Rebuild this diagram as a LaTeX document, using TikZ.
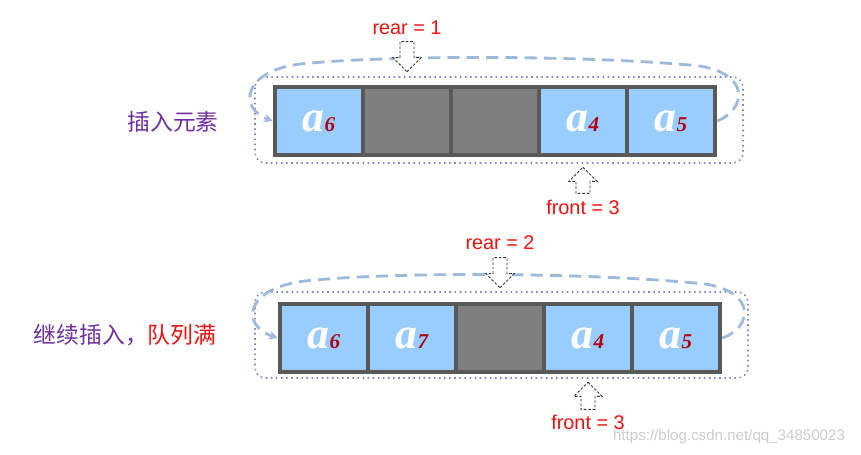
\documentclass[tikz,border=0pt]{standalone}
\usepackage{fontspec}
\setmainfont{Liberation Sans}
\newfontfamily\elemfont{Liberation Serif}
\newfontfamily\cjk{Noto Sans CJK SC}
\usepackage{xcolor}
\usetikzlibrary{arrows.meta,positioning,calc}
\definecolor{cellblue}{HTML}{99CCFF}
\definecolor{cellgray}{HTML}{7F7F7F}
\definecolor{frameg}{HTML}{595959}
\definecolor{loopblue}{HTML}{9DBADB}
\definecolor{dotblue}{HTML}{7F84CC}
\definecolor{labelpurple}{HTML}{7030A0}
\definecolor{idxred}{HTML}{B00010}
\definecolor{ptrred}{HTML}{F01010}
\newcommand{\qelem}[1]{{\elemfont\fontsize{25}{25}\selectfont\bfseries\itshape\textcolor{white}{a}}{\elemfont\fontsize{12}{12}\selectfont\bfseries\itshape\textcolor{idxred}{#1}}}

\begin{document}
\begin{tikzpicture}[x=0.02cm, y=-0.02cm, font=\fontsize{11.3}{13}\selectfont,
  cell/.style={minimum width=1.68cm, minimum height=1.28cm, inner sep=0pt, fill=#1},
  qframe/.style={fill=frameg, minimum width=8.88cm, minimum height=1.44cm, inner sep=0pt},
  wrap/.style={draw=dotblue, dotted, line width=0.9pt, rounded corners=6pt},
  loopback/.style={draw=loopblue, line width=1.6pt, dash pattern=on 7pt off 4pt, -{Stealth[length=5pt,width=5pt]}},
  hollowarrow/.style={draw=black!80, fill=white, line width=0.5pt, dash pattern=on 1.5pt off 1pt},
  ptr/.style={text=ptrred},
  rowlabel/.style={font=\cjk\fontsize{13}{15}\selectfont, text=labelpurple}]
  \useasboundingbox (0,0) rectangle (861,454);

  % first row: insert element
  \draw[wrap] (255,77) rectangle (743,163);
  \node[qframe] (row1) at (495,121) {};
  \foreach \i/\c/\t in {1/cellblue/\qelem{6}, 2/cellgray/, 3/cellgray/, 4/cellblue/\qelem{4}, 5/cellblue/\qelem{5}}
    { \node[cell=\c] (r1c\i) at ({319+88*(\i-1)},121) {\t}; }
  \draw[loopback] (row1.east) .. controls (745,110) and (752,75) .. (700,66)
    .. controls (600,56) and (400,54) .. (300,64)
    .. controls (243,71) and (238,108) .. (row1.west);
  \coordinate (rear1) at ($(r1c2.center |- row1.north)+(0,-13)$);
  \draw[hollowarrow] (rear1) -- ++(14,-14) -- ++(-7,0) -- ++(0,-16) -- ++(-14,0) -- ++(0,16) -- ++(-7,0) -- cycle;
  \node[ptr] (rearlbl1) at ($(rear1)+(0,-44)$) {rear = 1};
  \coordinate (front1) at ($(r1c4.center |- row1.south)+(0,10)$);
  \draw[hollowarrow] (front1) -- ++(14,14) -- ++(-7,0) -- ++(0,12) -- ++(-14,0) -- ++(0,-12) -- ++(-7,0) -- cycle;
  \node[ptr] (frontlbl1) at ($(front1)+(0,40)$) {front = 3};
  \node[rowlabel] (lbl1) at (173,122) {插入元素};

  % second row: queue full
  \draw[wrap] (255,292) rectangle (748,378);
  \node[qframe] (row2) at (500,338) {};
  \foreach \i/\c/\t in {1/cellblue/\qelem{6}, 2/cellblue/\qelem{7}, 3/cellgray/, 4/cellblue/\qelem{4}, 5/cellblue/\qelem{5}}
    { \node[cell=\c] (r2c\i) at ({324+88*(\i-1)},338) {\t}; }
  \draw[loopback] (row2.east) .. controls (752,328) and (757,292) .. (705,284)
    .. controls (600,273) and (400,271) .. (305,281)
    .. controls (245,288) and (240,325) .. (row2.west);
  \coordinate (rear2) at ($(r2c3.center |- row2.north)+(0,-14)$);
  \draw[hollowarrow] (rear2) -- ++(14,-14) -- ++(-7,0) -- ++(0,-16) -- ++(-14,0) -- ++(0,16) -- ++(-7,0) -- cycle;
  \node[ptr] (rearlbl2) at ($(rear2)+(0,-45)$) {rear = 2};
  \coordinate (front2) at ($(r2c4.center |- row2.south)+(0,8)$);
  \draw[hollowarrow] (front2) -- ++(14,14) -- ++(-7,0) -- ++(0,13) -- ++(-14,0) -- ++(0,-13) -- ++(-7,0) -- cycle;
  \node[ptr] (frontlbl2) at ($(front2)+(0,40)$) {front = 3};
  \node[rowlabel] (lbl2) at (125,335) {继续插入，\textcolor{ptrred}{队列满}};

  \node[text=black!20, font=\fontsize{8.6}{10}\selectfont] (mark) at (729,437) {https://blog.csdn.net/qq\_34850023};
\end{tikzpicture}
\end{document}
